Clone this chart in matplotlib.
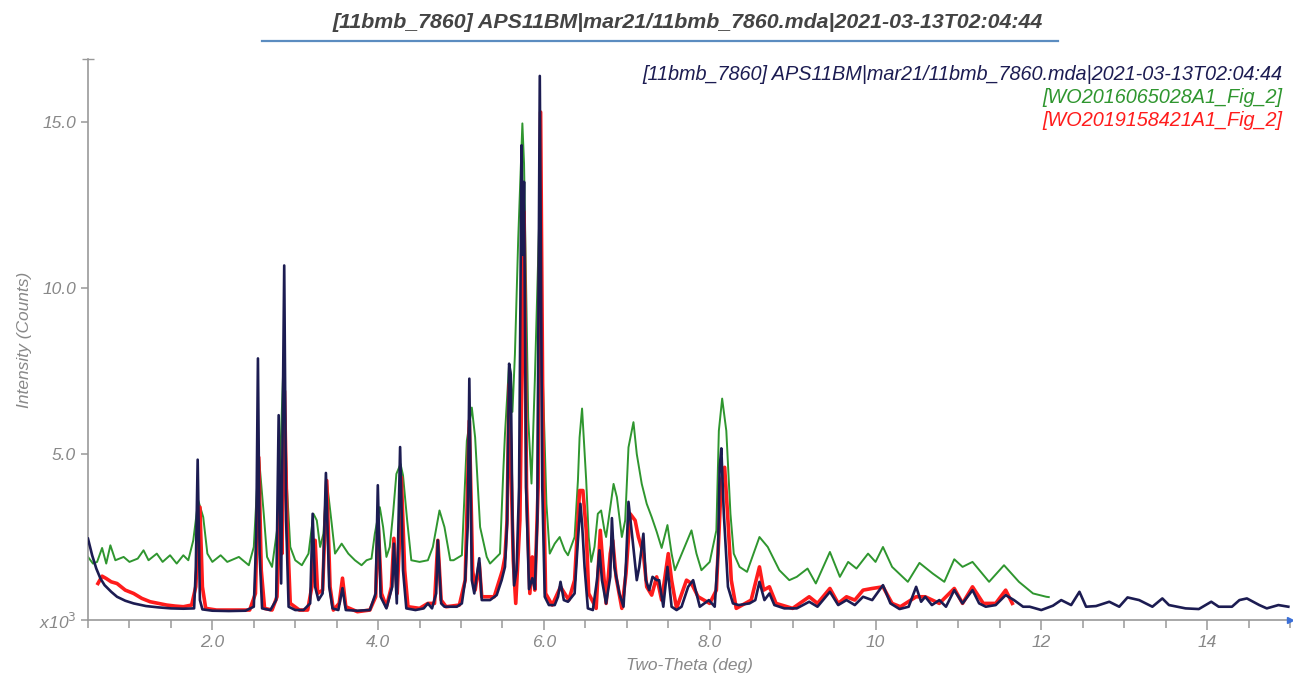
import numpy as np
import matplotlib
matplotlib.use('Agg')
import matplotlib.pyplot as plt
from matplotlib.lines import Line2D

plt.rcParams['font.family'] = ['Liberation Sans', 'DejaVu Sans']

title = '[11bmb_7860] APS11BM|mar21/11bmb_7860.mda|2021-03-13T02:04:44'
labels = ['[11bmb_7860] APS11BM|mar21/11bmb_7860.mda|2021-03-13T02:04:44',
          '[WO2016065028A1_Fig_2]',
          '[WO2019158421A1_Fig_2]']
colors = ['#1c1c52', '#2f962f', '#ff1c1c']

# intensity in 10^3 counts
bm_x = [0.50, 0.55, 0.60, 0.65, 0.70, 0.78, 0.85, 0.95, 1.05, 1.20, 1.35, 1.50, 1.65, 1.78,
        1.80, 1.823, 1.85, 1.88, 2.00, 2.20, 2.40, 2.50, 2.53, 2.55, 2.57, 2.60, 2.70, 2.77,
        2.80, 2.83, 2.867, 2.89, 2.92, 3.00, 3.10, 3.18, 3.21, 3.24, 3.28, 3.33, 3.37, 3.41,
        3.45, 3.52, 3.57, 3.61, 3.75, 3.90, 3.97, 3.996, 4.03, 4.10, 4.17, 4.19, 4.225, 4.265,
        4.30, 4.34, 4.45, 4.55, 4.60, 4.65, 4.70, 4.72, 4.76, 4.80, 4.95, 5.01, 5.05, 5.08,
        5.10, 5.13, 5.16, 5.22, 5.25, 5.35, 5.43, 5.49, 5.53, 5.555, 5.58, 5.60, 5.62, 5.64,
        5.67, 5.70, 5.73, 5.745, 5.76, 5.785, 5.82, 5.86, 5.89, 5.92, 5.95, 5.98, 6.01, 6.06,
        6.13, 6.17, 6.20, 6.24, 6.29, 6.37, 6.41, 6.44, 6.46, 6.49, 6.53, 6.59, 6.64, 6.67,
        6.70, 6.75, 6.80, 6.82, 6.85, 6.91, 6.96, 6.99, 7.02, 7.07, 7.12, 7.15, 7.20, 7.23,
        7.27, 7.31, 7.36, 7.39, 7.44, 7.49, 7.54, 7.60, 7.66, 7.74, 7.80, 7.88, 7.99, 8.06,
        8.10, 8.12, 8.14, 8.17, 8.22, 8.28, 8.35, 8.48, 8.55, 8.60, 8.66, 8.72, 8.78, 8.90,
        9.05, 9.20, 9.30, 9.45, 9.55, 9.65, 9.75, 9.85, 9.96, 10.09, 10.18, 10.29, 10.40,
        10.49, 10.55, 10.60, 10.68, 10.77, 10.85, 10.95, 11.05, 11.17, 11.25, 11.33, 11.45,
        11.57, 11.67, 11.78, 11.86, 12.00, 12.14, 12.24, 12.36, 12.46, 12.54, 12.66, 12.82,
        12.94, 13.04, 13.18, 13.34, 13.46, 13.54, 13.74, 13.90, 14.05, 14.14, 14.30, 14.39,
        14.48, 14.63, 14.72, 14.86, 14.98]
bm_y = [2.45, 1.95, 1.55, 1.25, 1.05, 0.85, 0.70, 0.58, 0.50, 0.42, 0.38, 0.35, 0.34, 0.35,
        1.5, 4.83, 0.6, 0.32, 0.28, 0.27, 0.28, 0.4, 2.5, 7.88, 2.0, 0.35, 0.3, 0.6,
        6.17, 1.1, 10.68, 3.0, 0.4, 0.3, 0.3, 0.5, 3.2, 1.0, 0.6, 0.8, 4.43, 1.0,
        0.35, 0.3, 0.96, 0.3, 0.28, 0.3, 0.8, 4.06, 0.7, 0.35, 1.0, 2.3, 0.5, 5.21,
        1.5, 0.35, 0.3, 0.35, 0.5, 0.35, 0.8, 2.4, 0.5, 0.4, 0.4, 0.5, 1.2, 2.8,
        7.27, 1.2, 0.8, 1.86, 0.6, 0.6, 0.75, 1.2, 1.6, 2.9, 7.72, 7.4, 3.0, 1.04,
        1.5, 4.0, 14.3, 11.0, 13.2, 4.0, 0.93, 1.26, 0.93, 3.0, 16.39, 4.0, 0.7, 0.45,
        0.45, 0.7, 1.15, 0.6, 0.55, 0.8, 2.4, 3.5, 2.9, 1.6, 0.35, 0.3, 1.2, 2.1,
        1.2, 0.5, 1.3, 3.07, 1.6, 0.8, 0.4, 1.7, 3.56, 2.4, 1.2, 1.6, 2.6, 1.2,
        0.9, 1.3, 1.2, 1.2, 0.4, 1.6, 0.4, 0.3, 0.4, 1.0, 1.2, 0.4, 0.6, 0.4,
        2.0, 4.6, 5.17, 3.2, 1.0, 0.5, 0.45, 0.5, 0.6, 1.15, 0.6, 0.8, 0.45, 0.35,
        0.35, 0.55, 0.4, 0.85, 0.45, 0.6, 0.45, 0.7, 0.6, 1.05, 0.5, 0.33, 0.4,
        1.0, 0.55, 0.7, 0.45, 0.6, 0.4, 0.9, 0.5, 0.9, 0.5, 0.4, 0.45,
        0.75, 0.6, 0.4, 0.4, 0.3, 0.43, 0.6, 0.45, 0.85, 0.4, 0.42, 0.55,
        0.4, 0.68, 0.6, 0.4, 0.65, 0.45, 0.35, 0.33, 0.55, 0.4, 0.4, 0.6,
        0.65, 0.45, 0.35, 0.45, 0.4]

wo16_x = [0.50, 0.56, 0.61, 0.67, 0.72, 0.77, 0.83, 0.93, 1.00, 1.10, 1.17, 1.23, 1.33, 1.40,
          1.49, 1.57, 1.65, 1.71, 1.77, 1.83, 1.89, 1.94, 2.00, 2.10, 2.18, 2.32, 2.44, 2.50,
          2.56, 2.62, 2.66, 2.72, 2.78, 2.81, 2.86, 2.90, 2.94, 3.00, 3.08, 3.16, 3.22, 3.26,
          3.30, 3.34, 3.38, 3.44, 3.48, 3.56, 3.64, 3.72, 3.80, 3.86, 3.92, 3.96, 4.02, 4.06,
          4.10, 4.14, 4.18, 4.22, 4.27, 4.30, 4.35, 4.40, 4.50, 4.60, 4.66, 4.74, 4.80, 4.87,
          4.91, 5.01, 5.07, 5.13, 5.17, 5.23, 5.31, 5.35, 5.47, 5.51, 5.53, 5.58, 5.60, 5.62,
          5.65, 5.69, 5.74, 5.76, 5.79, 5.81, 5.85, 5.89, 5.95, 5.99, 6.03, 6.07, 6.13, 6.19,
          6.25, 6.29, 6.37, 6.41, 6.43, 6.46, 6.51, 6.54, 6.57, 6.61, 6.65, 6.69, 6.73, 6.75,
          6.80, 6.84, 6.88, 6.94, 6.98, 7.02, 7.08, 7.12, 7.18, 7.24, 7.30, 7.36, 7.42, 7.49,
          7.54, 7.58, 7.68, 7.78, 7.84, 7.90, 8.00, 8.08, 8.11, 8.15, 8.20, 8.25, 8.29, 8.36,
          8.45, 8.60, 8.70, 8.84, 8.96, 9.05, 9.18, 9.28, 9.45, 9.57, 9.67, 9.77, 9.91, 10.00,
          10.09, 10.20, 10.39, 10.53, 10.69, 10.83, 10.95, 11.05, 11.17, 11.37, 11.55, 11.73,
          11.90, 12.06, 12.09]
wo16_y = [1.9, 1.7, 1.75, 2.17, 1.7, 2.25, 1.8, 1.9, 1.75, 1.85, 2.1, 1.8, 2.0, 1.75,
          1.95, 1.7, 1.95, 1.8, 2.4, 3.6, 3.1, 2.0, 1.75, 1.95, 1.75, 1.9, 1.65, 2.2,
          4.96, 3.2, 1.9, 1.6, 2.7, 4.2, 7.9, 4.0, 2.2, 1.8, 1.65, 2.0, 3.2, 3.0,
          2.2, 2.6, 4.2, 2.9, 2.0, 2.3, 2.0, 1.8, 1.65, 1.8, 1.85, 2.6, 3.4, 2.8,
          1.9, 2.2, 3.2, 4.4, 4.7, 4.36, 3.0, 1.8, 1.75, 1.8, 2.2, 3.3, 2.8, 1.8,
          1.8, 1.95, 5.4, 6.4, 5.5, 2.8, 1.9, 1.7, 2.0, 4.5, 5.6, 7.72, 7.4, 6.27,
          8.0, 11.5, 14.96, 13.75, 9.3, 6.1, 4.11, 7.2, 12.67, 7.0, 3.5, 2.0, 2.3, 2.5,
          2.1, 1.95, 2.5, 4.2, 5.5, 6.37, 4.2, 2.5, 1.75, 2.2, 3.2, 3.3, 2.7, 2.5,
          3.4, 4.1, 3.7, 2.5, 3.0, 5.2, 5.96, 5.0, 4.1, 3.5, 3.1, 2.66, 2.17, 2.86,
          2.0, 1.5, 2.1, 2.7, 2.0, 1.5, 1.75, 2.7, 5.7, 6.67, 5.7, 3.2, 2.0, 1.6,
          1.45, 2.5, 2.2, 1.5, 1.2, 1.3, 1.55, 1.1, 2.05, 1.3, 1.75, 1.55, 2.0, 1.75,
          2.2, 1.6, 1.15, 1.72, 1.4, 1.15, 1.83, 1.6, 1.75, 1.15, 1.65, 1.15,
          0.8, 0.7, 0.69]

wo19_x = [0.62, 0.67, 0.72, 0.78, 0.85, 0.95, 1.05, 1.15, 1.25, 1.35, 1.45, 1.55, 1.65, 1.75,
          1.80, 1.85, 1.88, 1.92, 2.05, 2.25, 2.45, 2.52, 2.56, 2.59, 2.63, 2.72, 2.78, 2.82,
          2.84, 2.87, 2.90, 2.94, 3.05, 3.15, 3.20, 3.24, 3.27, 3.33, 3.38, 3.42, 3.46, 3.53,
          3.57, 3.61, 3.75, 3.90, 3.97, 4.00, 4.04, 4.10, 4.16, 4.19, 4.23, 4.26, 4.28, 4.32,
          4.36, 4.50, 4.60, 4.68, 4.72, 4.76, 4.82, 4.98, 5.05, 5.10, 5.14, 5.17, 5.22, 5.25,
          5.40, 5.50, 5.53, 5.555, 5.58, 5.61, 5.63, 5.66, 5.71, 5.76, 5.79, 5.83, 5.86, 5.89,
          5.93, 5.96, 5.99, 6.02, 6.10, 6.20, 6.30, 6.37, 6.43, 6.47, 6.51, 6.54, 6.63, 6.68,
          6.71, 6.75, 6.80, 6.83, 6.87, 6.94, 6.99, 7.04, 7.10, 7.14, 7.20, 7.24, 7.30, 7.36,
          7.42, 7.50, 7.54, 7.60, 7.72, 7.78, 7.86, 8.00, 8.08, 8.14, 8.18, 8.22, 8.26, 8.32,
          8.50, 8.60, 8.65, 8.72, 8.80, 9.00, 9.20, 9.30, 9.45, 9.55, 9.65, 9.75, 9.85, 9.96,
          10.09, 10.20, 10.30, 10.49, 10.60, 10.77, 10.95, 11.05, 11.17, 11.30, 11.45, 11.57,
          11.65]
wo19_y = [1.1, 1.32, 1.25, 1.15, 1.1, 0.9, 0.8, 0.65, 0.55, 0.5, 0.45, 0.42, 0.40, 0.45,
          1.0, 3.4, 1.0, 0.35, 0.3, 0.3, 0.3, 0.8, 4.9, 1.5, 0.35, 0.3, 0.7, 3.5,
          2.0, 6.9, 3.0, 0.5, 0.3, 0.3, 1.0, 2.4, 0.8, 0.9, 4.2, 1.0, 0.3, 0.5,
          1.26, 0.4, 0.25, 0.3, 0.7, 2.9, 0.8, 0.4, 1.0, 2.46, 0.8, 2.5, 4.3, 1.5,
          0.4, 0.35, 0.5, 0.5, 2.4, 0.6, 0.4, 0.45, 1.2, 6.0, 1.5, 0.9, 1.7, 0.7,
          0.7, 1.5, 1.9, 3.0, 7.1, 4.0, 1.8, 0.5, 3.0, 12.3, 4.0, 0.8, 1.9, 0.9,
          4.0, 15.3, 5.0, 0.8, 0.45, 1.0, 0.6, 1.2, 3.9, 3.9, 2.7, 0.8, 0.35, 2.7,
          1.7, 0.5, 2.0, 2.4, 1.3, 0.35, 1.4, 3.2, 3.0, 2.5, 2.0, 1.0, 0.75, 1.3,
          0.6, 2.0, 1.2, 0.35, 1.2, 1.1, 0.7, 0.5, 0.9, 4.2, 4.6, 3.0, 1.2, 0.35,
          0.6, 1.6, 0.9, 1.0, 0.5, 0.35, 0.7, 0.5, 0.95, 0.5, 0.7, 0.6, 0.9, 0.95,
          1.0, 0.5, 0.4, 0.7, 0.7, 0.5, 0.95, 0.5, 1.0, 0.5, 0.5, 0.9,
          0.5]

xticks = [2, 4, 6, 8, 10, 12, 14]
xtick_labels = ['2.0', '4.0', '6.0', '8.0', '10', '12', '14']
yticks = [0, 5, 10, 15]
ytick_labels = ['x10$^3$', '5.0', '10.0', '15.0']

fig = plt.figure(figsize=(12.93, 6.75), dpi=100)
ax = fig.add_axes([88 / 1293, 55 / 675, 1202 / 1293, 561 / 675])

ax.plot(wo16_x, wo16_y, color=colors[1], lw=1.4, zorder=2)
ax.plot(wo19_x, wo19_y, color=colors[2], lw=2.6, zorder=3)
ax.plot(bm_x, bm_y, color=colors[0], lw=1.9, zorder=4)

ax.set_xlim(0.5, 15)
ax.set_ylim(0, 16.9)

for s in ['top', 'right']:
    ax.spines[s].set_visible(False)
for s in ['left', 'bottom']:
    ax.spines[s].set_color('#999999')
    ax.spines[s].set_linewidth(1.2)

ax.set_xticks(xticks)
ax.set_xticklabels(xtick_labels)
ax.set_xticks(np.arange(0.5, 15.01, 0.5), minor=True)
ax.set_yticks(yticks)
ax.set_yticklabels(ytick_labels)
ax.tick_params(axis='both', colors='#999999', labelcolor='#888888', labelsize=12.5, width=1.1)
ax.tick_params(axis='x', which='major', length=7)
ax.tick_params(axis='x', which='minor', length=6, color='#999999', width=1.1)
ax.tick_params(axis='y', which='major', length=5)
for t in ax.get_xticklabels() + ax.get_yticklabels():
    t.set_style('italic')

ax.set_xlabel('Two-Theta (deg)', fontsize=12.5, style='italic', color='#888888', labelpad=6)
ax.set_ylabel('Intensity (Counts)', fontsize=12.5, style='italic', color='#888888', labelpad=5)

# small cap at top of y axis and blue marker at the end of x axis
ax.plot([0.5], [16.9], marker='_', ms=8, color='#999999', clip_on=False)
ax.plot([15], [0], marker='>', ms=5, color='#3a6fd8', clip_on=False, zorder=5)

fig.text(0.532, 0.967, title, ha='center', va='center', fontsize=15.4,
         style='italic', fontweight='bold', color='#444444')
fig.add_artist(Line2D([262 / 1293, 1058 / 1293], [1 - 41 / 675, 1 - 41 / 675],
                      color='#5b8cc0', lw=1.6))

for i, (lab, c) in enumerate(zip(labels, colors)):
    fig.text(1282 / 1293, 1 - (75 + 22.5 * i) / 675, lab, ha='right', va='center',
             fontsize=14.3, style='italic', color=c)

fig.savefig('out.png', dpi=100)
